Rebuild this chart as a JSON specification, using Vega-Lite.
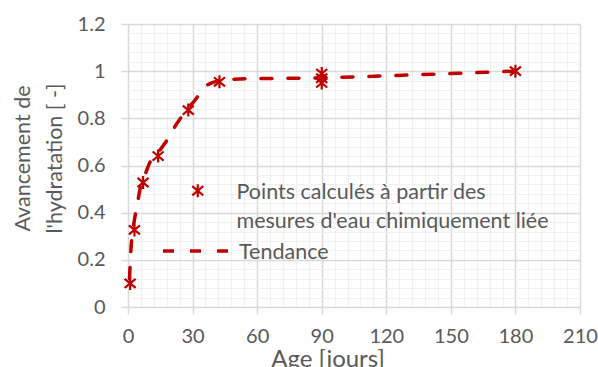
{
  "$schema": "https://vega.github.io/schema/vega-lite/v6.json",
  "width": 452,
  "height": 283,
  "autosize": {"type": "none"},
  "padding": {"left": 128, "top": 24, "right": 18, "bottom": 60},
  "background": "white",
  "config": {
    "font": "Lato",
    "view": {"stroke": null},
    "style": {"guide-label": {"lineHeight": 29, "dy": -9}},
    "legend": {"padding": 0, "labelFont": "Lato", "labelColor": "#595959", "labelFontSize": 21.5, "labelLimit": 400}
  },
  "datasets": {
    "points": [
      {"age": 1, "alpha": 0.10},
      {"age": 3, "alpha": 0.327},
      {"age": 7, "alpha": 0.528},
      {"age": 14, "alpha": 0.64},
      {"age": 28, "alpha": 0.835},
      {"age": 42.5, "alpha": 0.955},
      {"age": 90, "alpha": 0.99},
      {"age": 90, "alpha": 0.97},
      {"age": 90, "alpha": 0.95},
      {"age": 180, "alpha": 1.0}
    ],
    "trend": [
      {"age": 0.7, "alpha": 0.12},
      {"age": 1.4, "alpha": 0.25},
      {"age": 2, "alpha": 0.31},
      {"age": 3, "alpha": 0.37},
      {"age": 4.6, "alpha": 0.45},
      {"age": 5.6, "alpha": 0.5},
      {"age": 7, "alpha": 0.54},
      {"age": 8.3, "alpha": 0.57},
      {"age": 10, "alpha": 0.61},
      {"age": 14, "alpha": 0.655},
      {"age": 16.8, "alpha": 0.69},
      {"age": 18.7, "alpha": 0.715},
      {"age": 21.8, "alpha": 0.765},
      {"age": 24.9, "alpha": 0.807},
      {"age": 28, "alpha": 0.845},
      {"age": 30.3, "alpha": 0.868},
      {"age": 33.8, "alpha": 0.91},
      {"age": 36, "alpha": 0.935},
      {"age": 38.9, "alpha": 0.95},
      {"age": 43, "alpha": 0.96},
      {"age": 52, "alpha": 0.967},
      {"age": 90, "alpha": 0.972},
      {"age": 135, "alpha": 0.985},
      {"age": 180, "alpha": 1.0}
    ]
  },
  "encoding": {
    "x": {
      "field": "age", "type": "quantitative",
      "scale": {"domain": [0, 210], "nice": false, "zero": true},
      "axis": {
        "values": [0,6,12,18,24,30,36,42,48,54,60,66,72,78,84,90,96,102,108,114,120,126,132,138,144,150,156,162,168,174,180,186,192,198,204,210],
        "labelExpr": "datum.value % 30 === 0 ? format(datum.value, 'd') : ''",
        "grid": true,
        "gridColor": {"condition": {"test": "datum.value % 30 === 0", "value": "#d9d9d9"}, "value": "#f0f0f0"},
        "gridWidth": {"condition": {"test": "datum.value % 30 === 0", "value": 1.5}, "value": 1.2},
        "domain": false,
        "ticks": true,
        "tickColor": "#d9d9d9",
        "tickWidth": 1.5,
        "tickSize": 7,
        "tickOpacity": {"condition": {"test": "datum.value % 30 === 0", "value": 1}, "value": 0},
        "labelColor": "#595959",
        "labelFontSize": 20,
        "labelPadding": 21,
        "labelFlush": false,
        "labelOverlap": false,
        "title": "Age [jours]",
        "titleColor": "#595959",
        "titleFontSize": 24,
        "titleFontWeight": "normal",
        "titleX": 199.5,
        "titleY": 59,
        "titleBaseline": "alphabetic"
      }
    },
    "y": {
      "field": "alpha", "type": "quantitative",
      "scale": {"domain": [0, 1.2], "nice": false},
      "axis": {
        "values": [0,0.04,0.08,0.12,0.16,0.2,0.24,0.28,0.32,0.36,0.4,0.44,0.48,0.52,0.56,0.6,0.64,0.68,0.72,0.76,0.8,0.84,0.88,0.92,0.96,1,1.04,1.08,1.12,1.16,1.2],
        "labelExpr": "abs(datum.value*5 - round(datum.value*5)) < 0.001 ? format(datum.value, '~g') : ''",
        "grid": true,
        "gridColor": {"condition": {"test": "abs(datum.value*5 - round(datum.value*5)) < 0.001", "value": "#d9d9d9"}, "value": "#f0f0f0"},
        "gridWidth": {"condition": {"test": "abs(datum.value*5 - round(datum.value*5)) < 0.001", "value": 1.5}, "value": 1.2},
        "domain": false,
        "ticks": true,
        "tickColor": "#d9d9d9",
        "tickWidth": 1.5,
        "tickSize": 7,
        "tickOpacity": {"condition": {"test": "abs(datum.value*5 - round(datum.value*5)) < 0.001", "value": 1}, "value": 0},
        "labelColor": "#595959",
        "labelFontSize": 20,
        "labelPadding": 16,
        "labelOffset": 9,
        "labelOverlap": false,
        "labelFlush": false,
        "title": ["Avancement de", "l'hydratation [ -]"],
        "titleColor": "#595959",
        "titleFontSize": 21.5,
        "titleFontWeight": "normal",
        "titleLineHeight": 32,
        "titleX": -105,
        "titleY": 134,
        "titleAngle": -90,
        "titleAlign": "center",
        "titleBaseline": "middle"
      }
    }
  },
  "layer": [
    {
      "data": {"name": "trend"},
      "mark": {"type": "line", "color": "#C00000", "strokeWidth": 3.5, "strokeCap": "round", "interpolate": "monotone"},
      "encoding": {
        "strokeDash": {
          "datum": "Tendance",
          "scale": {"domain": ["Tendance"], "range": [[11, 16]]},
          "legend": {
            "title": null,
            "orient": "none",
            "legendX": 33,
            "legendY": 190,
            "symbolType": "stroke",
            "symbolSize": 4900,
            "symbolStrokeColor": "#C00000",
            "symbolStrokeWidth": 3.5,
            "symbolDash": [11, 14],
            "labelBaseline": "top",
            "labelOffset": 4
          }
        }
      }
    },
    {
      "data": {"name": "points"},
      "mark": {"type": "point", "filled": false, "stroke": "#C00000", "strokeWidth": 2.2, "size": 169, "opacity": 1},
      "encoding": {
        "shape": {
          "datum": "Points calculés à partir des|mesures d'eau chimiquement liée",
          "scale": {"domain": ["Points calculés à partir des|mesures d'eau chimiquement liée"], "range": ["M-0.85,-0.7L0.85,0.7M-0.85,0.7L0.85,-0.7M0,-1L0,1"]},
          "legend": {
            "title": null,
            "orient": "none",
            "legendX": 59,
            "legendY": 156,
            "labelExpr": "split(datum.label, '|')",
            "labelBaseline": "top",
            "labelOffset": 28,
            "symbolSize": 169,
            "symbolStrokeColor": "#C00000",
            "symbolFillColor": "transparent",
            "symbolStrokeWidth": 2.2
          }
        }
      }
    }
  ]
}
